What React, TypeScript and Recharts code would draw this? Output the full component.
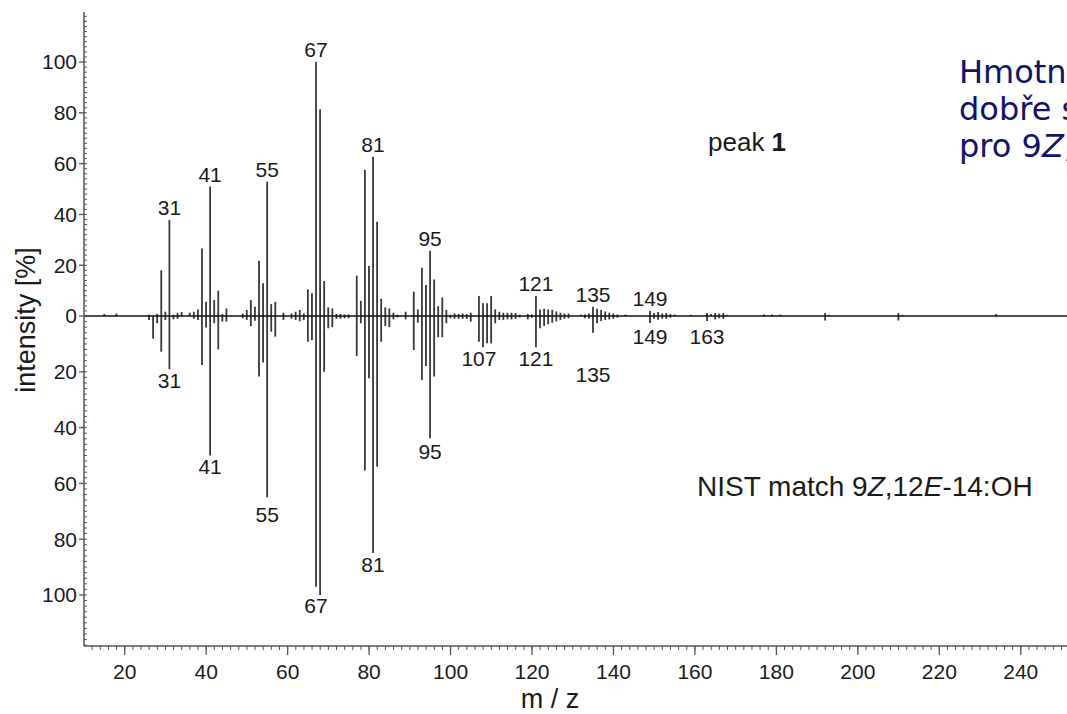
import React from 'react';
import { ComposedChart, Bar, XAxis, YAxis, ReferenceLine, LabelList } from 'recharts';

// ---------- data ----------
// [m/z, relative intensity %] of the measured spectrum (peak 1)
const peak1: [number, number][] = [
  [15, 0.8], [18, 1.0], [26, 0.5], [28, 0.8], [29, 18], [30, 1.7], [31, 37.8], [32, 0.5], [33, 1.3], [34, 1.6],
  [36, 1.3], [37, 1.7], [38, 2.6], [39, 26.6], [40, 5.6], [41, 51], [42, 6.3], [43, 10], [44, 0.8], [45, 3],
  [49, 1], [50, 2.4], [51, 6.3], [52, 3.7], [53, 21.8], [54, 12.9], [55, 52.9], [56, 4.7], [57, 5.6], [59, 1.3],
  [61, 1], [62, 1.7], [63, 2.4], [64, 1], [65, 10.5], [66, 9], [67, 100], [68, 81.4], [69, 13.8], [70, 3.4],
  [71, 3], [72, 0.8], [73, 0.8], [74, 0.6], [75, 0.6], [77, 15.9], [78, 6], [79, 57.5], [80, 19.7], [81, 62.7],
  [82, 37.1], [83, 6.8], [84, 3.4], [85, 3], [86, 1.3], [87, 0.5], [89, 1.7], [91, 9.6], [92, 2.6], [93, 19],
  [94, 12.2], [95, 25.7], [96, 14.4], [97, 3.9], [98, 7.3], [99, 2.4], [100, 0.5], [101, 1], [102, 0.8], [103, 1],
  [104, 0.8], [105, 1.3], [107, 7.9], [108, 5], [109, 5], [110, 7.9], [111, 2.6], [112, 1.7], [113, 1.3], [114, 1.3],
  [115, 1.3], [116, 1.2], [117, 0.5], [119, 0.8], [120, 0.6], [121, 7.9], [122, 2.6], [123, 2.9], [124, 2.6], [125, 2.4],
  [126, 1.8], [127, 1.3], [128, 1], [129, 1], [132, 0.6], [133, 0.6], [134, 1], [135, 3.7], [136, 2.9], [137, 2.4],
  [138, 1.8], [139, 1.3], [140, 1], [141, 0.6], [143, 0.6], [149, 2], [150, 1.2], [151, 1.6], [152, 1], [153, 1.2],
  [154, 0.8], [155, 0.6], [159, 0.5], [163, 1.2], [164, 0.8], [165, 1.2], [166, 1], [167, 1.2], [168, 0.5], [177, 0.6],
  [179, 0.6], [181, 0.6], [192, 1.2], [193, 0.5], [210, 1.2], [211, 0.5], [234, 0.8],
];

// [m/z, relative intensity %] of the NIST library spectrum (drawn downwards)
const nistMatch: [number, number][] = [
  [26, 1.4], [27, 8.1], [28, 2.6], [29, 12.8], [30, 1.4], [31, 19.1], [32, 1.2], [33, 1], [37, 1], [38, 1.4],
  [39, 17.6], [40, 4.1], [41, 50], [42, 2.6], [43, 12], [44, 2], [45, 2], [49, 0.8], [50, 1.4], [51, 3.6],
  [52, 1.7], [53, 21.7], [54, 16.7], [55, 65], [56, 5.6], [57, 7.4], [59, 1.4], [61, 1], [62, 1.4], [63, 1.9],
  [64, 1.4], [65, 9.2], [66, 8.6], [67, 97.1], [68, 100], [69, 20], [70, 4.4], [71, 4], [72, 1], [73, 1],
  [74, 0.8], [75, 0.8], [77, 14.3], [78, 2.6], [79, 55.4], [80, 22.3], [81, 85], [82, 54], [83, 9.2], [84, 3.6],
  [85, 4], [86, 1.2], [87, 0.5], [89, 1.2], [91, 12.2], [92, 2.4], [93, 22.9], [94, 17.9], [95, 43.8], [96, 21.7],
  [97, 7.6], [98, 7.6], [99, 2.6], [100, 0.8], [101, 1], [102, 1], [103, 1], [104, 1], [105, 2], [107, 9.2],
  [108, 11.2], [109, 9.8], [110, 9.8], [111, 2.6], [112, 1.4], [113, 1.4], [114, 1.2], [115, 1.2], [116, 1], [117, 0.5],
  [119, 1.2], [120, 0.6], [121, 11.2], [122, 4.4], [123, 3.6], [124, 2.9], [125, 2.4], [126, 1.9], [127, 1.4], [128, 1],
  [129, 0.8], [133, 0.8], [134, 1], [135, 6], [136, 2.6], [137, 1.8], [138, 1.4], [139, 1.2], [140, 1], [141, 0.6],
  [149, 2.5], [150, 1], [151, 1.3], [152, 1], [153, 1], [154, 0.6], [163, 1.8], [165, 1.2], [166, 0.8], [167, 1],
  [192, 1.6], [210, 1.6],
];

const peak1Labels = [31, 41, 55, 67, 81, 95, 121, 135, 149];
const nistLabels = [31, 41, 55, 67, 81, 95, 107, 121, 135, 149, 163];

const xTicks = [20, 40, 60, 80, 100, 120, 140, 160, 180, 200, 220, 240];
const yTopTicks = [0, 20, 40, 60, 80, 100];
const yBottomTicks = [-20, -40, -60, -80, -100];

// ---------- chart table built from the arrays ----------
const allMz = Array.from(new Set([...peak1.map((p) => p[0]), ...nistMatch.map((p) => p[0])])).sort((a, b) => a - b);
const data = allMz.map((mz) => {
  const t = peak1.find((p) => p[0] === mz);
  const b = nistMatch.find((p) => p[0] === mz);
  return {
    mz,
    top: t ? t[1] : null,
    bot: b ? -b[1] : null,
    topLabel: peak1Labels.includes(mz) ? String(mz) : null,
    botLabel: nistLabels.includes(mz) ? String(mz) : null,
  };
});

// ---------- layout / style ----------
const W = 1067;
const H = 714;
const FONT = '"Liberation Sans", Arial, Helvetica, sans-serif';
const X_DOMAIN: [number, number] = [10, 251.35];
const Y_TOP_DOMAIN: [number, number] = [-129.9, 119.7];
const Y_BOT_DOMAIN: [number, number] = [-118.3, 109];
const AXIS_COLOR = '#555';
const BAR_COLOR = '#383838';
const TEXT_COLOR = '#1a1a1a';
const THIN = 0.001; // axes take (almost) no room so they all sit on the plot edge

const xMinorTicks: number[] = [];
for (let v = 12; v <= 250; v += 2) xMinorTicks.push(v);
const yTopMinor: number[] = [];
for (let v = 2; v <= 118; v += 2) yTopMinor.push(v);
const yBotMinor: number[] = [];
for (let v = -2; v >= -118; v -= 2) yBotMinor.push(v);

const bottomNudge: Record<string, number> = { '55': 6, '67': 7, '95': 2, '107': 5, '135': 30 };

const abs = (v: number) => String(Math.abs(v));
const blank = () => '';

function rect(props: any) {
  const vb = props.viewBox && props.viewBox.x !== undefined ? props.viewBox : props;
  const x = Number(vb.x);
  const y = Number(vb.y);
  const w = Number(vb.width);
  const h = Number(vb.height);
  return { x, y, w, h };
}

const renderTopLabel = (props: any) => {
  const { value } = props;
  if (value === null || value === undefined || value === '') return null;
  const { x, y, w, h } = rect(props);
  if (!isFinite(x) || !isFinite(y)) return null;
  const top = Math.min(y, y + (h || 0));
  return (
    <text x={x + w / 2} y={top - 5} textAnchor="middle" fontSize={21} fontFamily={FONT} fill={TEXT_COLOR}>
      {value}
    </text>
  );
};

const renderBottomLabel = (props: any) => {
  const { value } = props;
  if (value === null || value === undefined || value === '') return null;
  const { x, y, w, h } = rect(props);
  if (!isFinite(x) || !isFinite(y)) return null;
  const zero = Math.min(y, y + (h || 0));
  const bottom = Math.max(y, y + (h || 0));
  const base = Math.max(bottom + 19, zero + 28) + (bottomNudge[String(value)] || 0);
  return (
    <text x={x + w / 2} y={base} textAnchor="middle" fontSize={21} fontFamily={FONT} fill={TEXT_COLOR}>
      {value}
    </text>
  );
};

export default function App() {
  return (
    <div style={{ position: 'absolute', left: 0, top: 0, width: W, height: H, overflow: 'hidden', background: '#fff' }}>
      <ComposedChart width={W} height={H} data={data} margin={{ top: 12, right: 0, bottom: 68, left: 84 }} barGap={0}>
        <XAxis
          xAxisId="a"
          dataKey="mz"
          type="number"
          domain={X_DOMAIN}
          allowDataOverflow
          ticks={xTicks}
          interval={0}
          tickSize={9}
          tickMargin={9}
          height={THIN}
          axisLine={{ stroke: AXIS_COLOR, strokeWidth: 1.5 }}
          tickLine={{ stroke: AXIS_COLOR, strokeWidth: 1.3 }}
          tick={{ fontSize: 21, fill: TEXT_COLOR, fontFamily: FONT }}
        />
        <XAxis xAxisId="b" dataKey="mz" type="number" domain={X_DOMAIN} allowDataOverflow hide height={THIN} />
        <XAxis
          xAxisId="minor"
          dataKey="mz"
          type="number"
          domain={X_DOMAIN}
          allowDataOverflow
          ticks={xMinorTicks}
          interval={0}
          tickSize={4}
          tickFormatter={blank}
          axisLine={false}
          tickLine={{ stroke: AXIS_COLOR, strokeWidth: 1 }}
          height={THIN}
        />
        <YAxis
          yAxisId="top"
          type="number"
          orientation="left"
          width={THIN}
          domain={Y_TOP_DOMAIN}
          allowDataOverflow
          ticks={yTopTicks}
          interval={0}
          tickSize={5}
          tickMargin={2}
          tickFormatter={abs}
          axisLine={{ stroke: AXIS_COLOR, strokeWidth: 1.5 }}
          tickLine={{ stroke: AXIS_COLOR, strokeWidth: 1.3 }}
          tick={{ fontSize: 21, fill: TEXT_COLOR, fontFamily: FONT }}
        />
        <YAxis
          yAxisId="bot"
          type="number"
          orientation="left"
          width={THIN}
          domain={Y_BOT_DOMAIN}
          allowDataOverflow
          ticks={yBottomTicks}
          interval={0}
          tickSize={5}
          tickMargin={2}
          tickFormatter={abs}
          axisLine={false}
          tickLine={{ stroke: AXIS_COLOR, strokeWidth: 1.3 }}
          tick={{ fontSize: 21, fill: TEXT_COLOR, fontFamily: FONT }}
        />
        <YAxis
          yAxisId="topMinor"
          type="number"
          orientation="left"
          mirror
          width={THIN}
          domain={Y_TOP_DOMAIN}
          allowDataOverflow
          ticks={yTopMinor}
          interval={0}
          tickSize={3}
          tickFormatter={blank}
          axisLine={false}
          tickLine={{ stroke: AXIS_COLOR, strokeWidth: 1 }}
        />
        <YAxis
          yAxisId="botMinor"
          type="number"
          orientation="left"
          mirror
          width={THIN}
          domain={Y_BOT_DOMAIN}
          allowDataOverflow
          ticks={yBotMinor}
          interval={0}
          tickSize={3}
          tickFormatter={blank}
          axisLine={false}
          tickLine={{ stroke: AXIS_COLOR, strokeWidth: 1 }}
        />
        <Bar xAxisId="a" yAxisId="top" dataKey="top" fill={BAR_COLOR} barSize={1.8} isAnimationActive={false}>
          <LabelList dataKey="topLabel" content={renderTopLabel} />
        </Bar>
        <Bar xAxisId="b" yAxisId="bot" dataKey="bot" fill={BAR_COLOR} barSize={1.8} isAnimationActive={false}>
          <LabelList dataKey="botLabel" content={renderBottomLabel} />
        </Bar>
        <ReferenceLine xAxisId="a" yAxisId="top" y={0} stroke="#111" strokeWidth={1.6} />
      </ComposedChart>

      <svg width={W} height={H} style={{ position: 'absolute', left: 0, top: 0, pointerEvents: 'none' }}>
        <text transform="translate(35,320) rotate(-90)" textAnchor="middle" fontSize={27} fontFamily={FONT} fill={TEXT_COLOR}>
          intensity [%]
        </text>
        <text x={550} y={708} textAnchor="middle" fontSize={27} fontFamily={FONT} fill={TEXT_COLOR}>
          m / z
        </text>
        <text x={708} y={151} fontSize={26} fontFamily={FONT} fill={TEXT_COLOR}>
          peak <tspan fontWeight="bold">1</tspan>
        </text>
        <text x={697} y={496} fontSize={28} fontFamily={FONT} fill={TEXT_COLOR}>
          NIST match 9<tspan fontStyle="italic">Z</tspan>,12<tspan fontStyle="italic">E</tspan>-14:OH
        </text>
        <g fontFamily='"DejaVu Sans", Verdana, sans-serif' fontSize={32} fill="#111170">
          <text x={959} y={83}>Hmotnostní spektrum</text>
          <text x={959} y={120}>dobře souhlasí s knihovním</text>
          <text x={959} y={157}>
            pro 9<tspan fontStyle="italic">Z</tspan>,12<tspan fontStyle="italic">E</tspan>-14:OH
          </text>
        </g>
      </svg>
    </div>
  );
}
